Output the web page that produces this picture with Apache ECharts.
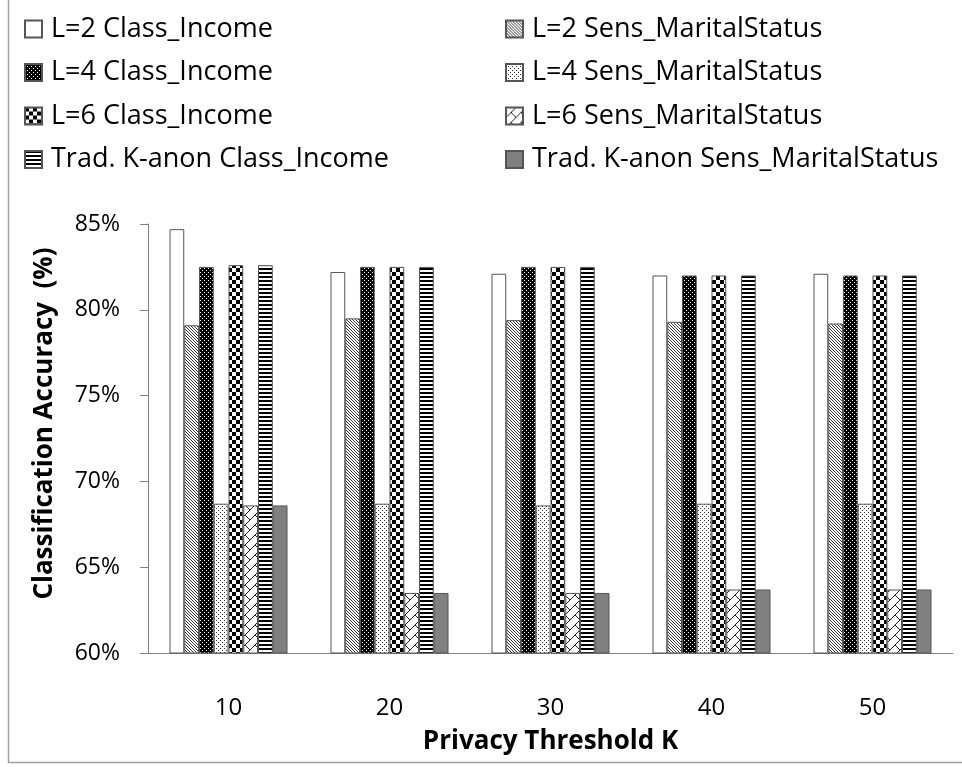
<!DOCTYPE html>
<html>
<head>
<meta charset="utf-8">
<title>Classification Accuracy vs Privacy Threshold K</title>
<script src="https://cdn.jsdelivr.net/npm/echarts@6/dist/echarts.min.js"></script>
<style>
  html, body { margin: 0; padding: 0; background: #fff; }
  #chart { width: 962px; height: 767px; }
</style>
</head>
<body>
<div id="chart"></div>
<script>
// ---- data ----
const categories = ['10', '20', '30', '40', '50'];
const seriesNames = [
  'L=2 Class_Income', 'L=2 Sens_MaritalStatus',
  'L=4 Class_Income', 'L=4 Sens_MaritalStatus',
  'L=6 Class_Income', 'L=6 Sens_MaritalStatus',
  'Trad. K-anon Class_Income', 'Trad. K-anon Sens_MaritalStatus'
];
const l2Class   = [84.7, 82.2, 82.1, 82.0, 82.1];
const l2Sens    = [79.1, 79.5, 79.4, 79.3, 79.2];
const l4Class   = [82.5, 82.5, 82.5, 82.0, 82.0];
const l4Sens    = [68.7, 68.7, 68.6, 68.7, 68.7];
const l6Class   = [82.6, 82.5, 82.5, 82.0, 82.0];
const l6Sens    = [68.6, 63.5, 63.5, 63.7, 63.7];
const tradClass = [82.6, 82.5, 82.5, 82.0, 82.0];
const tradSens  = [68.6, 63.5, 63.5, 63.7, 63.7];
const yTicks = [60, 65, 70, 75, 80, 85];

// ---- fill patterns ----
function makeCanvas(w, h, draw) {
  const c = document.createElement('canvas');
  c.width = w; c.height = h;
  const ctx = c.getContext('2d');
  draw(ctx, w, h);
  return c;
}
function pat(canvas) { return { image: canvas, repeat: 'repeat' }; }

const fillWhite = '#ffffff';
// dense downward diagonal hatching
const fillHatch = pat(makeCanvas(3, 3, (ctx) => {
  ctx.fillStyle = '#fff'; ctx.fillRect(0, 0, 3, 3);
  ctx.fillStyle = '#3a3a3a';
  for (let i = 0; i < 3; i++) { ctx.fillRect(i, i, 1, 1); }
}));
// black with small white dots
const fillDarkDots = pat(makeCanvas(4, 4, (ctx) => {
  ctx.fillStyle = '#000'; ctx.fillRect(0, 0, 4, 4);
  ctx.fillStyle = '#fff';
  ctx.fillRect(0, 0, 1, 1); ctx.fillRect(2, 2, 1, 1);
}));
// white with sparse dark dots
const fillLightDots = pat(makeCanvas(4, 4, (ctx) => {
  ctx.fillStyle = '#fff'; ctx.fillRect(0, 0, 4, 4);
  ctx.fillStyle = '#333';
  ctx.fillRect(0, 0, 1, 1); ctx.fillRect(2, 2, 1, 1);
}));
// checkerboard
const fillChecker = pat(makeCanvas(8, 8, (ctx) => {
  ctx.fillStyle = '#fff'; ctx.fillRect(0, 0, 8, 8);
  ctx.fillStyle = '#000';
  ctx.fillRect(0, 0, 4, 4); ctx.fillRect(4, 4, 4, 4);
}));
// diagonal brick
const fillBrick = pat(makeCanvas(10, 10, (ctx) => {
  ctx.fillStyle = '#fff'; ctx.fillRect(0, 0, 10, 10);
  ctx.strokeStyle = '#222'; ctx.lineWidth = 1;
  ctx.beginPath();
  ctx.moveTo(-1, 11); ctx.lineTo(11, -1);
  ctx.moveTo(5, 5); ctx.lineTo(10, 10);
  ctx.stroke();
}));
// horizontal stripes
const fillStripes = pat(makeCanvas(4, 4, (ctx) => {
  ctx.fillStyle = '#fff'; ctx.fillRect(0, 0, 4, 4);
  ctx.fillStyle = '#000'; ctx.fillRect(0, 0, 4, 2);
}));
const fillGray = '#808080';

const fills = [fillWhite, fillHatch, fillDarkDots, fillLightDots,
               fillChecker, fillBrick, fillStripes, fillGray];
const values = [l2Class, l2Sens, l4Class, l4Sens, l6Class, l6Sens, tradClass, tradSens];

const FONT = 'Open Sans';

const series = seriesNames.map((name, i) => ({
  name: name,
  type: 'bar',
  barGap: '0%',
  barCategoryGap: '26.7%',
  data: values[i],
  itemStyle: { color: fills[i], borderColor: '#555', borderWidth: 1 },
  emphasis: { disabled: true }
}));

const legendCommon = {
  orient: 'vertical',
  top: 13,
  padding: 0,
  icon: 'rect',
  itemWidth: 17,
  itemHeight: 17,
  itemGap: 11.5,
  textStyle: { fontFamily: FONT, fontSize: 27, color: '#000', lineHeight: 32, padding: [0, 0, 0, 4] },
  selectedMode: false
};

const chart = echarts.init(document.getElementById('chart'), null, { renderer: 'canvas' });
chart.setOption({
  animation: false,
  backgroundColor: '#fff',
  legend: [
    Object.assign({}, legendCommon, { left: 24, data: [seriesNames[0], seriesNames[2], seriesNames[4], seriesNames[6]] }),
    Object.assign({}, legendCommon, { left: 505, data: [seriesNames[1], seriesNames[3], seriesNames[5], seriesNames[7]] })
  ],
  grid: { left: 148, right: 9, top: 224, bottom: 114, containLabel: false },
  xAxis: {
    type: 'category',
    data: categories,
    name: 'Privacy Threshold K',
    nameLocation: 'middle',
    nameGap: 76,
    nameTextStyle: { fontFamily: FONT, fontSize: 26, fontWeight: 'bold', color: '#000' },
    axisLine: { lineStyle: { color: '#808080', width: 1 } },
    axisTick: { show: false },
    axisLabel: { fontFamily: FONT, fontSize: 24, color: '#000', margin: 43 }
  },
  yAxis: {
    type: 'value',
    min: yTicks[0],
    max: yTicks[yTicks.length - 1],
    interval: 5,
    name: 'Classification Accuracy  (%)',
    nameLocation: 'middle',
    nameGap: 90,
    nameTextStyle: { fontFamily: FONT, fontSize: 26, fontWeight: 'bold', color: '#000', padding: [0, 0, 0, 30] },
    axisLine: { show: true, lineStyle: { color: '#808080', width: 1 } },
    axisTick: { show: true, length: 8, lineStyle: { color: '#808080' } },
    splitLine: { show: false },
    axisLabel: { fontFamily: FONT, fontSize: 23, color: '#000', margin: 28, formatter: '{value}%' }
  },
  graphic: [{
    type: 'rect',
    shape: { x: 8.5, y: -10, width: 1000, height: 772.5 },
    style: { fill: 'none', stroke: '#a0a0a0', lineWidth: 1.5 },
    silent: true
  }],
  series: series
});
</script>
</body>
</html>
